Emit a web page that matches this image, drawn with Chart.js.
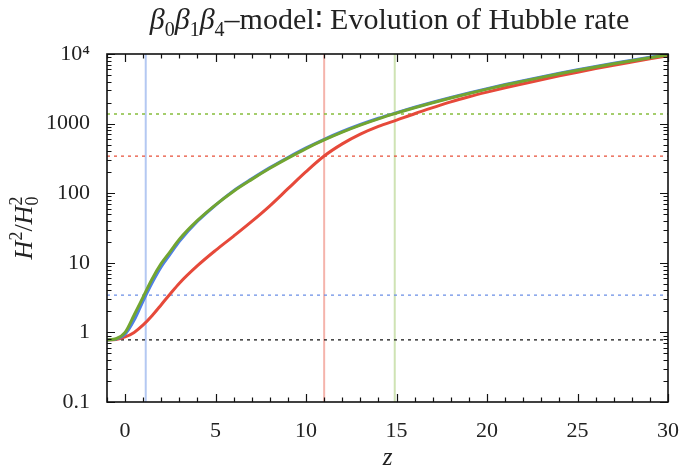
<!DOCTYPE html>
<html>
<head>
<meta charset="utf-8">
<script src="https://cdn.jsdelivr.net/npm/chart.js@4/dist/chart.umd.min.js"></script>
<style>
  html, body { margin: 0; padding: 0; background: #fff; }
  #wrap { width: 696px; height: 470px; }
</style>
</head>
<body>
<div id="wrap"><canvas id="hubble"></canvas></div>
<script>
// redshift samples and H^2/H0^2
const zValues = [-1, -0.5, 0, 0.5, 1, 1.5, 2, 2.5, 3, 4, 5, 6, 7, 8, 9, 10, 11, 12, 13, 14, 15,
  16, 17, 18, 19, 20, 21, 22, 23, 24, 25, 26, 27, 28, 29, 30];
const greenH2 = [0.78, 0.81, 1.0, 1.78, 3.24, 5.9, 9.8, 14.6, 21.8, 40.6, 68, 107, 158, 228, 319, 438, 583, 755, 951, 1170, 1413,
  1686, 1993, 2333, 2710, 3126, 3580, 4076, 4617, 5199, 5834, 6510, 7240, 8021, 8858, 9750];
const blueH2 = [0.78, 0.8, 0.94, 1.5, 2.85, 5.2, 8.8, 13.4, 20.3, 39.5, 67.5, 109, 161, 233, 326, 447, 595, 770, 970, 1193, 1437,
  1714, 2026, 2372, 2755, 3178, 3640, 4144, 4694, 5286, 5931, 6618, 7360, 8154, 9005, 9910];
const redH2 = [0.78, 0.79, 0.86, 1.0, 1.28, 1.75, 2.5, 3.6, 5.1, 9.1, 15.1, 24.2, 39.3, 65.9, 116, 204, 342, 511, 706, 912, 1122,
  1387, 1694, 2056, 2432, 2831, 3266, 3741, 4276, 4853, 5483, 6166, 6902, 7674, 8511, 9420];

// reference lines
const vLineZ = [1.14, 11.0, 14.9];
const vLineColors = ["#b4c8f2", "#f5b4ac", "#cfe3b4"];
const hLineH2 = [1374, 342, 3.44, 0.78];
const hLineColors = ["#86bd3c", "#e8503a", "#6a8ee6", "#111111"];

const xTicks = [0, 5, 10, 15, 20, 25, 30];
const yTicks = [0.1, 1, 10, 100, 1000, 10000];
const yTickLabels = ["0.1", "1", "10", "100", "1000", "10\u2074"];

const FONT = "'Liberation Serif', 'DejaVu Serif', serif";
const TXT = "#222";

const pts = (ys) => zValues.map((z, i) => ({ x: z, y: ys[i] }));

const datasets = [
  { label: "green", data: pts(greenH2), borderColor: "#72a531", borderWidth: 3, order: 0 },
  { label: "blue", data: pts(blueH2), borderColor: "#4f7fe6", borderWidth: 3, order: 1 },
  { label: "red", data: pts(redH2), borderColor: "#e6493a", borderWidth: 3, order: 2 },
];
vLineZ.forEach((z, i) => {
  datasets.push({
    data: [{ x: z, y: 0.1 }, { x: z, y: 10000 }],
    borderColor: vLineColors[i], borderWidth: 2, order: 6, tension: 0,
  });
});
hLineH2.forEach((v, i) => {
  datasets.push({
    data: [{ x: -1, y: v }, { x: 30, y: v }],
    borderColor: hLineColors[i], borderWidth: 1.3, borderDash: [3, 4], order: 5, tension: 0,
  });
});

// ticks inside the frame, on all four sides
const frameTicks = {
  id: "frameTicks",
  afterDraw(chart) {
    const { ctx, chartArea: a, scales: { x, y } } = chart;
    ctx.save();
    ctx.strokeStyle = "#111";
    ctx.lineWidth = 1.2;
    ctx.beginPath();
    for (let z = -1; z <= 30; z++) {
      const px = Math.round(x.getPixelForValue(z)) + 0.5;
      const len = z % 5 === 0 ? 8 : 4.5;
      ctx.moveTo(px, a.bottom); ctx.lineTo(px, a.bottom - len);
      ctx.moveTo(px, a.top); ctx.lineTo(px, a.top + len);
    }
    for (let d = -1; d <= 4; d++) {
      for (let m = 1; m <= 9; m++) {
        const v = m * Math.pow(10, d);
        if (v > 10000) break;
        const py = Math.round(y.getPixelForValue(v)) + 0.5;
        const len = m === 1 ? 8 : 4.5;
        ctx.moveTo(a.left, py); ctx.lineTo(a.left + len, py);
        ctx.moveTo(a.right, py); ctx.lineTo(a.right - len, py);
      }
    }
    ctx.stroke();
    ctx.lineWidth = 1.6;
    ctx.strokeRect(a.left, a.top, a.right - a.left, a.bottom - a.top);
    ctx.restore();
  },
};

// draws a run of [text, style] pieces; style: n normal, i italic, sub, sup
function drawRich(ctx, parts, size, align) {
  const fontFor = (p) => {
    const small = p[1] === "sub" || p[1] === "sup";
    const it = p[1] === "i" ? "italic " : "";
    return it + (small ? Math.round(size * 0.68) : size) + "px " + FONT;
  };
  let w = 0;
  parts.forEach((p) => { ctx.font = fontFor(p); if (!p[2]) w += ctx.measureText(p[0]).width; });
  let xx = align === "center" ? -w / 2 : 0;
  let lastW = 0;
  parts.forEach((p) => {
    ctx.font = fontFor(p);
    let dy = 0;
    if (p[1] === "sub") dy = size * 0.22;
    if (p[1] === "sup") dy = -size * 0.38;
    const px = p[2] ? xx - lastW : xx; // p[2]: stacked over previous piece
    ctx.fillText(p[0], px, dy);
    const mw = ctx.measureText(p[0]).width;
    if (!p[2]) { xx += mw; lastW = mw; }
  });
}

const labels = {
  id: "labels",
  afterDraw(chart) {
    const { ctx, chartArea: a } = chart;
    const cx = (a.left + a.right) / 2;
    ctx.save();
    ctx.fillStyle = TXT;
    ctx.textBaseline = "alphabetic";
    ctx.textAlign = "left";

    ctx.save();
    ctx.translate(cx + 2, 29);
    drawRich(ctx, [
      ["\u03b2", "i"], ["0", "sub"], ["\u03b2", "i"], ["1", "sub"], ["\u03b2", "i"], ["4", "sub"],
      ["\u2013model\u2236 Evolution of Hubble rate", "n"],
    ], 30, "center");
    ctx.restore();

    ctx.save();
    ctx.translate(32, (a.top + a.bottom) / 2);
    ctx.rotate(-Math.PI / 2);
    drawRich(ctx, [
      ["H", "i"], ["2", "sup"], ["/", "n"], ["H", "i"], ["0", "sub"], ["2", "sup", true],
    ], 26, "center");
    ctx.restore();

    ctx.save();
    ctx.translate(cx, 465);
    drawRich(ctx, [["z", "i"]], 25, "center");
    ctx.restore();

    ctx.restore();
  },
};

new Chart(document.getElementById("hubble"), {
  type: "line",
  data: { datasets },
  options: {
    responsive: true,
    maintainAspectRatio: false,
    animation: false,
    parsing: false,
    elements: {
      point: { radius: 0 },
      line: { cubicInterpolationMode: "monotone", fill: false },
    },
    layout: { padding: { left: 0, top: 54, right: 28, bottom: 0 } },
    plugins: { legend: { display: false }, tooltip: { enabled: false } },
    scales: {
      x: {
        type: "linear",
        min: -1,
        max: 30,
        grid: { display: false },
        border: { display: false },
        afterBuildTicks: (s) => { s.ticks = xTicks.map((v) => ({ value: v })); },
        afterFit: (s) => { s.height = 68; },
        ticks: {
          padding: 8,
          maxRotation: 0,
          color: TXT,
          font: { family: FONT, size: 22 },
          callback: (v) => String(v),
        },
      },
      y: {
        type: "logarithmic",
        min: 0.1,
        max: 10000,
        grid: { display: false },
        border: { display: false },
        afterBuildTicks: (s) => { s.ticks = yTicks.map((v) => ({ value: v })); },
        afterFit: (s) => { s.width = 107; },
        ticks: {
          padding: 9,
          color: TXT,
          font: { family: FONT, size: 22 },
          callback: (v) => yTickLabels[yTicks.indexOf(v)] ?? "",
        },
      },
    },
  },
  plugins: [frameTicks, labels],
});
</script>
</body>
</html>
